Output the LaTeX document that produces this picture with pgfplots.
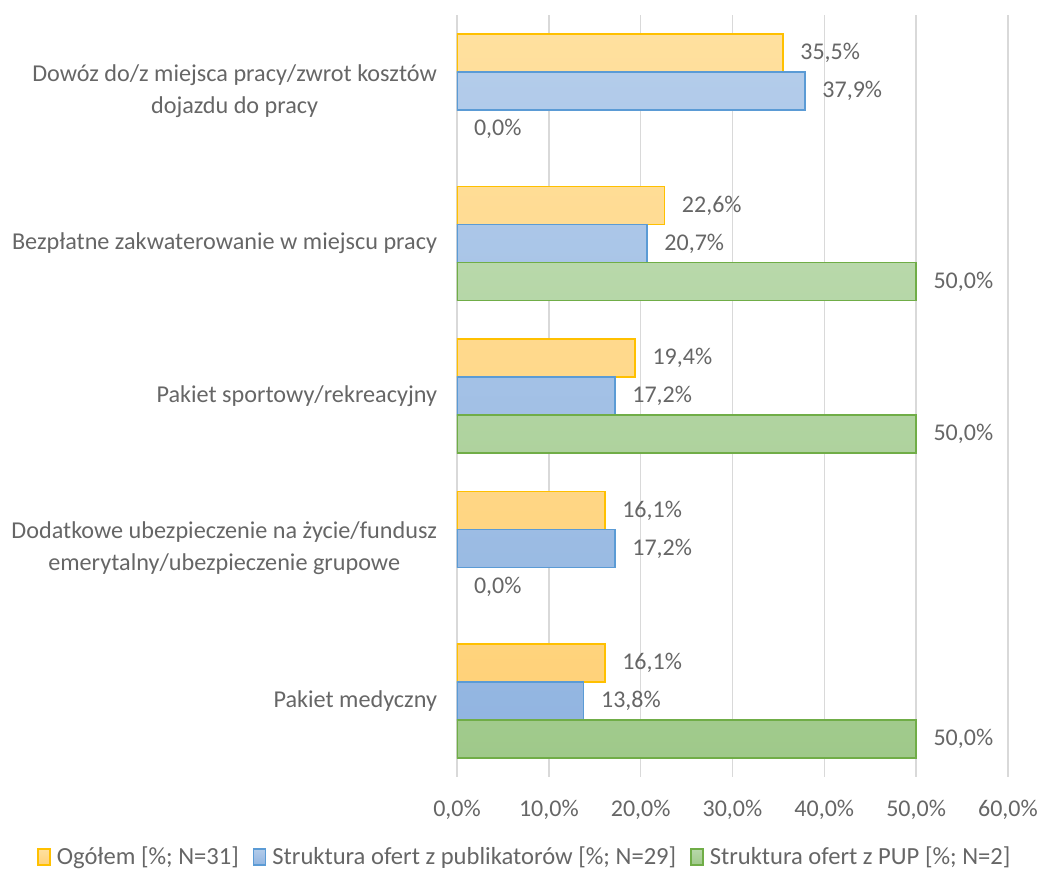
\documentclass[border=0pt]{standalone}
\usepackage{pgfplots}
\pgfplotsset{compat=1.18}
\usepackage{fontspec}
\setmainfont{Carlito}
\definecolor{txt}{HTML}{666666}
\definecolor{gridc}{HTML}{D9D9D9}
\definecolor{yelB}{HTML}{FFC000}
\definecolor{yelT}{HTML}{FFE09E}
\definecolor{yelD}{HTML}{FFD27A}
\definecolor{bluB}{HTML}{5B9BD5}
\definecolor{bluT}{HTML}{B3CCEA}
\definecolor{bluD}{HTML}{92B5E1}
\definecolor{grnB}{HTML}{70AD47}
\definecolor{grnT}{HTML}{B8D8AA}
\definecolor{grnD}{HTML}{9FC98A}
\begin{document}
\begin{tikzpicture}
\useasboundingbox (-228.5pt,-47.5pt) rectangle (292pt,388.5pt);
\begin{axis}[
  scale only axis,
  width=275.5pt, height=381pt,
  xbar, bar width=19pt,
  xmin=0, xmax=60, ymin=-0.5, ymax=4.5,
  y dir=reverse,
  axis line style={draw=none},
  major tick length=0pt,
  xmajorgrids, grid style={gridc, line width=0.75pt},
  xtick={0,10,20,30,40,50,60},
  xticklabels={{0,0\%},{10,0\%},{20,0\%},{30,0\%},{40,0\%},{50,0\%},{60,0\%}},
  ytick={0,1,2,3,4},
  yticklabels={{Dowóz do/z miejsca pracy/zwrot kosztów\\dojazdu do pracy},
    {Bezpłatne zakwaterowanie w miejscu pracy},
    {Pakiet sportowy/rekreacyjny},
    {Dodatkowe ubezpieczenie na życie/fundusz\\emerytalny/ubezpieczenie grupowe},
    {Pakiet medyczny}},
  yticklabel style={align=center, font=\fontsize{12.1}{16}\selectfont, text=txt, xshift=-6.5pt},
  xticklabel style={font=\fontsize{12}{14}\selectfont, text=txt, yshift=-8pt},
  /pgf/number format/assume math mode=true,
  nodes near coords={\pgfmathprintnumber[fixed,fixed zerofill,precision=1,use comma]{\pgfplotspointmeta}\%},
  every node near coord/.append style={font=\fontsize{12}{14}\selectfont, text=txt, anchor=west, xshift=5pt},
  legend style={at={(0.125,-0.105)}, anchor=center, draw=none, fill=none,
    font=\fontsize{12.3}{14}\selectfont, text=txt, legend columns=-1,
    /tikz/every even column/.append style={column sep=5pt},
    /tikz/every odd column/.append style={column sep=1pt}},
  legend image code/.code={\draw[#1,line width=0.75pt] (0pt,-4pt) rectangle (6pt,4pt);},
]
\addplot[bar shift=19pt, draw=yelB, line width=0.75pt, top color=yelT, bottom color=yelD]
  coordinates {(35.5,0) (22.6,1) (19.4,2) (16.1,3) (16.1,4)};
\addplot[bar shift=0pt, draw=bluB, line width=0.75pt, top color=bluT, bottom color=bluD]
  coordinates {(37.9,0) (20.7,1) (17.2,2) (17.2,3) (13.8,4)};
\addplot[bar shift=-19pt, draw=grnB, line width=0.75pt, top color=grnT, bottom color=grnD]
  coordinates {(50.0,1) (50.0,2) (50.0,4)};
\addplot[bar shift=-19pt, draw=none, fill=none, forget plot]
  coordinates {(0.0,0) (0.0,3)};
\legend{Ogółem [\%; N=31],Struktura ofert z publikatorów [\%; N=29],Struktura ofert z PUP [\%; N=2]}
\end{axis}
\end{tikzpicture}
\end{document}
